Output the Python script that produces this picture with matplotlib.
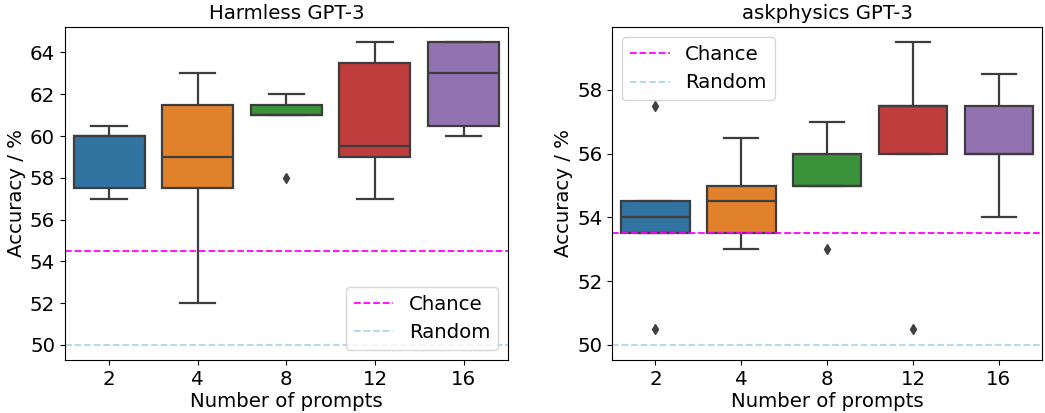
import numpy as np
import pandas as pd
import matplotlib
matplotlib.use("Agg")
import matplotlib.pyplot as plt
from matplotlib.ticker import MultipleLocator
import seaborn as sns

# prompts per run, one row of scores per count
n_prompts = [2, 4, 8, 12, 16]

harmless_scores = [
    [57.0, 57.5, 60.0, 60.0, 60.5],
    [52.0, 57.5, 59.0, 61.5, 63.0],
    [58.0, 61.0, 61.0, 61.5, 62.0],
    [57.0, 59.0, 59.5, 63.5, 64.5],
    [60.0, 60.5, 63.0, 64.5, 64.5],
]
harmless_chance = 54.5

askphysics_scores = [
    [50.5, 53.5, 54.0, 54.5, 57.5],
    [53.0, 53.5, 54.5, 55.0, 56.5],
    [53.0, 55.0, 55.0, 56.0, 57.0],
    [50.5, 56.0, 57.5, 57.5, 59.5],
    [54.0, 56.0, 56.0, 57.5, 58.5],
]
askphysics_chance = 53.5

random_level = 50.0


def to_frame(scores):
    rows = []
    for n, vals in zip(n_prompts, scores):
        for v in vals:
            rows.append({"n": str(n), "acc": v})
    return pd.DataFrame(rows)


FS = 14.2
plt.rcParams["font.family"] = ["DejaVu Sans"]

fig = plt.figure(figsize=(10.45, 4.13), dpi=100)
ax1 = fig.add_axes([0.062, 0.128, 0.424, 0.807])
ax2 = fig.add_axes([0.586, 0.128, 0.411, 0.807])

panels = [
    (ax1, harmless_scores, harmless_chance, "Harmless GPT-3", "lower right"),
    (ax2, askphysics_scores, askphysics_chance, "askphysics GPT-3", "upper left"),
]

for ax, scores, chance, title, loc in panels:
    df = to_frame(scores)
    sns.boxplot(data=df, x="n", y="acc", hue="n", palette="tab10",
                order=[str(n) for n in n_prompts], legend=False,
                saturation=0.75, linewidth=1.6, ax=ax,
                flierprops=dict(marker="d", markerfacecolor="0.25",
                                markeredgecolor="0.25", markersize=5))
    ax.axhline(chance, color="magenta", ls="--", lw=1.3, label="Chance")
    ax.axhline(random_level, color="lightblue", ls="--", lw=1.3, label="Random")
    ax.yaxis.set_major_locator(MultipleLocator(2))
    ax.set_title(title, fontsize=FS)
    ax.set_xlabel("Number of prompts", fontsize=FS, labelpad=2)
    ax.set_ylabel("Accuracy / %", fontsize=FS, labelpad=3)
    ax.tick_params(labelsize=FS)
    ax.legend(loc=loc, fontsize=FS)

fig.savefig("out.png", dpi=100)
